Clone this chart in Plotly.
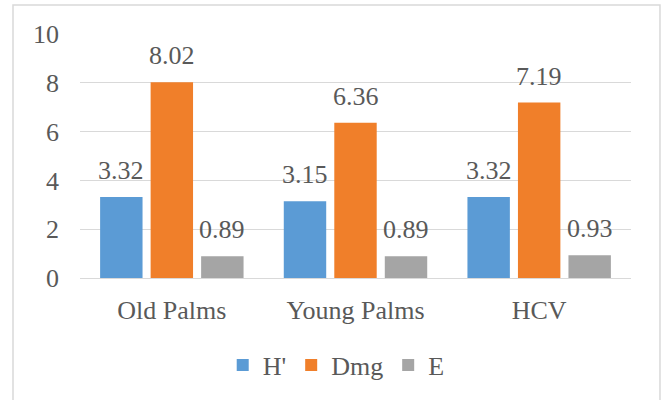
import plotly.graph_objects as go

categories = ["Old Palms", "Young Palms", "HCV"]
h_vals = [3.32, 3.15, 3.32]
dmg_vals = [8.02, 6.36, 7.19]
e_vals = [0.89, 0.89, 0.93]
series_names = ["H'", "Dmg", "E"]
y_ticks = [0, 2, 4, 6, 8, 10]

colors = ["#5b9bd5", "#f07f2a", "#a5a5a5"]
font_col = "#595959"
FONT = "Liberation Serif"
FS = 26

fig = go.Figure()
all_vals = [h_vals, dmg_vals, e_vals]
for name, vals, c in zip(series_names, all_vals, colors):
    fig.add_trace(go.Bar(
        x=categories, y=vals, name=name,
        marker=dict(color=c, line=dict(width=0)),
    ))

# value labels above bars (offset per series within a group)
slot = 50.5
for si, vals in enumerate(all_vals):
    for cat, v in zip(categories, vals):
        fig.add_annotation(x=cat, y=v, text=f"{v:.2f}", showarrow=False,
                           xanchor="center", yanchor="bottom",
                           xshift=(si - 1) * slot, yshift=10,
                           font=dict(family=FONT, size=FS, color=font_col))

fig.update_layout(
    width=665, height=400,
    margin=dict(l=80, r=34, t=34, b=122),
    paper_bgcolor="white", plot_bgcolor="white",
    barmode="group", bargap=0.175, bargroupgap=0.16,
    font=dict(family=FONT, size=FS, color=font_col),
    showlegend=True,
    legend=dict(orientation="h", x=0.465, xanchor="center", y=-0.357, yanchor="middle",
                font=dict(family=FONT, size=FS, color=font_col),
                itemwidth=30, tracegroupgap=0, traceorder="normal"),
    xaxis=dict(showgrid=False, showline=False, ticks="", ticklabelstandoff=14,
               tickfont=dict(family=FONT, size=FS, color=font_col)),
    yaxis=dict(range=[0, 10], tickvals=y_ticks, showgrid=True, gridcolor="#d9d9d9", gridwidth=1,
               zeroline=True, zerolinecolor="#d9d9d9", zerolinewidth=1,
               showline=False, ticks="", ticklabelstandoff=20,
               tickfont=dict(family=FONT, size=FS, color=font_col)),
    shapes=[dict(type="rect", xref="paper", yref="paper",
                 x0=-0.1216, x1=1.0526, y0=-0.6, y1=1.1189,
                 line=dict(color="#d9d9d9", width=1.5), fillcolor="rgba(0,0,0,0)", layer="below")],
)

fig.write_html("out.html", config={"displayModeBar": False},
               post_script="document.body.style.margin='0px';")
